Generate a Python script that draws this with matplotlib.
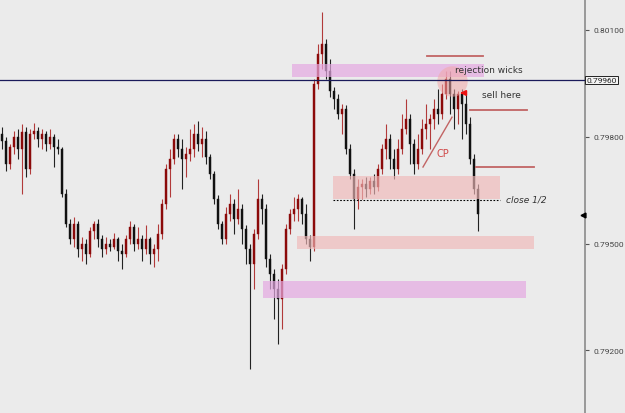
import numpy as np
import matplotlib.pyplot as plt
from matplotlib.ticker import FixedLocator

# candle data (price), one candle per bar
opens = [0.79808, 0.79788, 0.79723, 0.79771, 0.79799, 0.79766, 0.79813, 0.79709, 0.79808, 0.79816,
         0.79794, 0.79808, 0.79780, 0.79799, 0.79771, 0.79766, 0.79639, 0.79555, 0.79513, 0.79555,
         0.79485, 0.79499, 0.79470, 0.79535, 0.79555, 0.79513, 0.79485, 0.79499, 0.79490, 0.79513,
         0.79479, 0.79470, 0.79513, 0.79546, 0.79499, 0.79513, 0.79485, 0.79513, 0.79470, 0.79485,
         0.79527, 0.79611, 0.79709, 0.79737, 0.79794, 0.79766, 0.79737, 0.79751, 0.79766, 0.79808,
         0.79780, 0.79794, 0.79743, 0.79695, 0.79625, 0.79555, 0.79513, 0.79583, 0.79611, 0.79569,
         0.79597, 0.79541, 0.79485, 0.79442, 0.79527, 0.79625, 0.79597, 0.79456, 0.79414, 0.79372,
         0.79344, 0.79428, 0.79541, 0.79583, 0.79597, 0.79625, 0.79583, 0.79513, 0.79490, 0.79948,
         0.80032, 0.80061, 0.79985, 0.79928, 0.79906, 0.79864, 0.79878, 0.79766, 0.79695, 0.79625,
         0.79659, 0.79667, 0.79653, 0.79676, 0.79659, 0.79709, 0.79766, 0.79794, 0.79737, 0.79709,
         0.79766, 0.79822, 0.79850, 0.79780, 0.79723, 0.79766, 0.79822, 0.79836, 0.79850, 0.79878,
         0.79864, 0.79920, 0.79962, 0.79920, 0.79878, 0.79920, 0.79892, 0.79836, 0.79737, 0.79653]
highs = [0.79827, 0.79799, 0.79780, 0.79816, 0.79822, 0.79836, 0.79827, 0.79822, 0.79839, 0.79827,
         0.79822, 0.79816, 0.79822, 0.79808, 0.79794, 0.79771, 0.79653, 0.79569, 0.79574, 0.79563,
         0.79518, 0.79513, 0.79546, 0.79563, 0.79569, 0.79524, 0.79518, 0.79513, 0.79530, 0.79518,
         0.79499, 0.79524, 0.79563, 0.79555, 0.79546, 0.79524, 0.79552, 0.79518, 0.79499, 0.79555,
         0.79625, 0.79723, 0.79766, 0.79808, 0.79808, 0.79794, 0.79771, 0.79822, 0.79836, 0.79844,
         0.79827, 0.79816, 0.79751, 0.79704, 0.79636, 0.79563, 0.79603, 0.79639, 0.79625, 0.79653,
         0.79611, 0.79552, 0.79499, 0.79541, 0.79681, 0.79639, 0.79611, 0.79470, 0.79428, 0.79400,
         0.79442, 0.79555, 0.79597, 0.79631, 0.79639, 0.79631, 0.79611, 0.79524, 0.79962, 0.80061,
         0.80150, 0.80075, 0.80018, 0.79940, 0.79920, 0.79892, 0.79889, 0.79780, 0.79709, 0.79681,
         0.79681, 0.79687, 0.79687, 0.79695, 0.79723, 0.79780, 0.79836, 0.79808, 0.79766, 0.79794,
         0.79864, 0.79906, 0.79864, 0.79794, 0.79808, 0.79850, 0.79892, 0.79864, 0.79906, 0.79934,
         0.79948, 0.79985, 0.79985, 0.79934, 0.79928, 0.79934, 0.79920, 0.79855, 0.79751, 0.79667]
lows = [0.79766, 0.79704, 0.79709, 0.79751, 0.79737, 0.79639, 0.79687, 0.79695, 0.79794, 0.79771,
        0.79766, 0.79760, 0.79766, 0.79715, 0.79751, 0.79631, 0.79546, 0.79499, 0.79490, 0.79462,
        0.79451, 0.79442, 0.79462, 0.79513, 0.79490, 0.79462, 0.79470, 0.79479, 0.79485, 0.79451,
        0.79428, 0.79462, 0.79499, 0.79479, 0.79485, 0.79451, 0.79470, 0.79442, 0.79434, 0.79451,
        0.79513, 0.79597, 0.79631, 0.79723, 0.79743, 0.79653, 0.79687, 0.79732, 0.79743, 0.79760,
        0.79743, 0.79723, 0.79681, 0.79611, 0.79541, 0.79499, 0.79499, 0.79563, 0.79527, 0.79555,
        0.79499, 0.79442, 0.79147, 0.79372, 0.79513, 0.79555, 0.79434, 0.79372, 0.79288, 0.79218,
        0.79260, 0.79414, 0.79527, 0.79563, 0.79563, 0.79555, 0.79499, 0.79451, 0.79479, 0.79934,
        0.79990, 0.79962, 0.79912, 0.79878, 0.79850, 0.79808, 0.79751, 0.79681, 0.79541, 0.79597,
        0.79625, 0.79631, 0.79639, 0.79639, 0.79648, 0.79695, 0.79737, 0.79709, 0.79681, 0.79695,
        0.79751, 0.79808, 0.79723, 0.79695, 0.79709, 0.79751, 0.79794, 0.79766, 0.79822, 0.79836,
        0.79850, 0.79906, 0.79864, 0.79822, 0.79836, 0.79794, 0.79808, 0.79723, 0.79639, 0.79535]
closes = [0.79788, 0.79723, 0.79771, 0.79799, 0.79766, 0.79813, 0.79709, 0.79808, 0.79816, 0.79794,
          0.79808, 0.79780, 0.79799, 0.79771, 0.79766, 0.79639, 0.79555, 0.79513, 0.79555, 0.79485,
          0.79499, 0.79470, 0.79535, 0.79555, 0.79513, 0.79485, 0.79499, 0.79490, 0.79513, 0.79479,
          0.79470, 0.79513, 0.79546, 0.79499, 0.79513, 0.79485, 0.79513, 0.79470, 0.79485, 0.79527,
          0.79611, 0.79709, 0.79737, 0.79794, 0.79766, 0.79737, 0.79751, 0.79766, 0.79808, 0.79780,
          0.79794, 0.79743, 0.79695, 0.79625, 0.79555, 0.79513, 0.79583, 0.79611, 0.79569, 0.79597,
          0.79541, 0.79485, 0.79442, 0.79527, 0.79625, 0.79597, 0.79456, 0.79414, 0.79372, 0.79344,
          0.79428, 0.79541, 0.79583, 0.79597, 0.79625, 0.79583, 0.79513, 0.79490, 0.79948, 0.80032,
          0.80061, 0.79985, 0.79928, 0.79906, 0.79864, 0.79878, 0.79766, 0.79695, 0.79625, 0.79659,
          0.79667, 0.79653, 0.79676, 0.79659, 0.79709, 0.79766, 0.79794, 0.79737, 0.79709, 0.79766,
          0.79822, 0.79850, 0.79780, 0.79723, 0.79766, 0.79822, 0.79836, 0.79850, 0.79878, 0.79864,
          0.79920, 0.79962, 0.79920, 0.79878, 0.79920, 0.79892, 0.79836, 0.79737, 0.79653, 0.79583]

price_ticks = [0.80100, 0.79800, 0.79500, 0.79200]
current_price = 0.79960

axis_font = 'Roboto'

bg = '#ebebeb'
fig = plt.figure(figsize=(6.25, 4.14), dpi=100, facecolor=bg)
ax = fig.add_axes([0, 0, 585 / 625, 1], facecolor=bg)

o = np.array(opens)
h = np.array(highs)
l = np.array(lows)
c = np.array(closes)
x = np.arange(len(c))
up = c >= o
colors = np.where(up, '#8b0a0a', '#111111')
wick_colors = np.where(up, '#b23a3a', '#222222')

# candles
ax.vlines(x, l, h, colors=wick_colors, linewidth=0.8, zorder=2)
body = np.where(np.abs(c - o) < 0.00002, 0.00002, c - o)
ax.bar(x, body, bottom=o, width=0.7, color=colors, edgecolor=colors, linewidth=0.3, zorder=3)

# zones
ax.fill_between([72.5, 120.5], 0.79968, 0.80004, color='#e5a9e2', alpha=0.7, lw=0, zorder=4)
ax.fill_between([82.75, 124.5], 0.79625, 0.79690, color='#f0b8b8', alpha=0.65, lw=0, zorder=4)
ax.fill_between([73.75, 133], 0.79485, 0.79521, color='#f0b8b8', alpha=0.65, lw=0, zorder=4)
ax.fill_between([65.25, 131], 0.79347, 0.79395, color='#e5a9e2', alpha=0.7, lw=0, zorder=4)
ax.plot([82.75, 124.5], [0.79622, 0.79622], color='black', lw=0.8, ls=(0, (1.5, 1.5)), zorder=5)

# current price line
ax.axhline(current_price, color='#1a1a5a', lw=0.9, zorder=5)

# target lines
line_red = '#c26464'
ax.plot([106.25, 120.25], [0.80027, 0.80027], color=line_red, lw=1.3, zorder=5)
ax.plot([117, 131.25], [0.79875, 0.79875], color=line_red, lw=1.3, zorder=5)
ax.plot([118.5, 133], [0.79715, 0.79715], color=line_red, lw=1.3, zorder=5)
ax.plot([105.25, 112.5], [0.79715, 0.79855], color=line_red, lw=1.0, zorder=5)
ax.text(108.6, 0.79745, 'CP', color='#d04848', fontsize=7, zorder=6)

# rejection circle and arrow
ax.scatter([112.5], [0.79957], s=480, color='#f2a8a8', alpha=0.55, lw=0, zorder=4)
ax.annotate('', xy=(113.8, 0.79923), xytext=(116.3, 0.79923),
            arrowprops=dict(arrowstyle='-|>', color='#ee1111', lw=1.5, mutation_scale=7), zorder=6)

ax.text(113.3, 0.79990, 'rejection wicks', fontsize=6.5, color='#333333', va='center', zorder=6)
ax.text(120, 0.79920, 'sell here', fontsize=6.5, color='#333333', va='center', zorder=6)
ax.text(126, 0.79625, 'close 1/2', fontsize=6.5, color='#333333', va='center', style='italic', zorder=6)

ax.set_xlim(-0.5, 145.75)
ax.set_ylim(0.79024, 0.80187)

# right price axis
for s in ['top', 'left', 'bottom']:
    ax.spines[s].set_visible(False)
ax.spines['right'].set_color('#8a8a8a')
ax.spines['right'].set_linewidth(1.2)
ax.set_xticks([])
ax.yaxis.tick_right()
ax.yaxis.set_major_locator(FixedLocator(price_ticks))
ax.set_yticklabels(['%.5f' % p for p in price_ticks], family=axis_font)
ax.tick_params(axis='y', direction='out', length=3, width=0.8, colors='#555555',
               labelsize=6, labelcolor='#444444', pad=3)
ax.text(1.002, current_price, '%.5f' % current_price, transform=ax.get_yaxis_transform(),
        fontsize=6, family=axis_font, color='#222222', va='center', ha='left', clip_on=False,
        bbox=dict(boxstyle='square,pad=0.15', fc='#f4f4f4', ec='#222222', lw=0.7))
ax.plot([145.3], [0.79580], marker='<', color='black', markersize=3.5, clip_on=False, zorder=6)

plt.savefig('out.png', dpi=100, facecolor=bg)
